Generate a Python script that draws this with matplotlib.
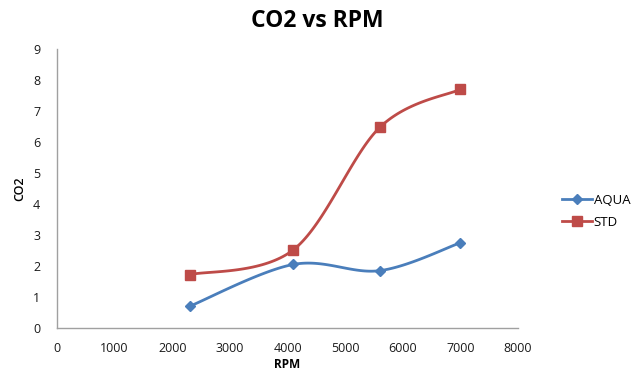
import numpy as np
import matplotlib
matplotlib.use("Agg")
import matplotlib.pyplot as plt
from matplotlib.lines import Line2D

rpm = [2300, 4100, 5600, 7000]
aqua = [0.7, 2.05, 1.85, 2.75]
std = [1.72, 2.52, 6.47, 7.7]
series_names = ["AQUA", "STD"]
x_ticks = [0, 1000, 2000, 3000, 4000, 5000, 6000, 7000, 8000]
y_ticks = [0, 1, 2, 3, 4, 5, 6, 7, 8, 9]

BLUE = "#4a7ebb"
RED = "#be4b48"
plt.rcParams["font.family"] = ["Open Sans", "DejaVu Sans"]


def smooth(xs, ys, n=40):
    """Cubic Bezier smoothing through points (Catmull-Rom style control points)."""
    xs = np.asarray(xs, float)
    ys = np.asarray(ys, float)
    px = np.concatenate([[xs[0]], xs, [xs[-1]]])
    py = np.concatenate([[ys[0]], ys, [ys[-1]]])
    ox, oy = [], []
    t = np.linspace(0, 1, n)
    for i in range(1, len(px) - 2):
        p0 = np.array([px[i], py[i]])
        p3 = np.array([px[i + 1], py[i + 1]])
        p1 = p0 + (np.array([px[i + 1], py[i + 1]]) - np.array([px[i - 1], py[i - 1]])) / 6
        p2 = p3 - (np.array([px[i + 2], py[i + 2]]) - np.array([px[i], py[i]])) / 6
        b = ((1 - t) ** 3)[:, None] * p0 + (3 * (1 - t) ** 2 * t)[:, None] * p1 \
            + (3 * (1 - t) * t ** 2)[:, None] * p2 + (t ** 3)[:, None] * p3
        ox.extend(b[:, 0])
        oy.extend(b[:, 1])
    return ox, oy


fig = plt.figure(figsize=(6.35, 3.74), dpi=100)
ax = fig.add_axes([0.0898, 0.123, 0.726, 0.746])

for ys, col, mk, ms in [(aqua, BLUE, "D", 5), (std, RED, "s", 7)]:
    sx, sy = smooth(rpm, ys)
    ax.plot(sx, sy, color=col, lw=2, solid_capstyle="round")
    ax.plot(rpm, ys, ls="none", marker=mk, ms=ms, color=col)

ax.set_xlim(0, 8000)
ax.set_ylim(0, 9)
ax.set_xticks(x_ticks)
ax.set_yticks(y_ticks)
ax.tick_params(length=0, labelsize=9, colors="#1a1a1a")
ax.tick_params(axis="x", pad=10)
ax.tick_params(axis="y", pad=12)
for s in ["top", "right"]:
    ax.spines[s].set_visible(False)
for s in ["left", "bottom"]:
    ax.spines[s].set_color("#a0a0a0")
    ax.spines[s].set_linewidth(1)

ax.set_xlabel("RPM", fontsize=8.5, fontweight="bold", labelpad=2)
ax.set_ylabel("CO2", fontsize=9, fontweight="semibold", labelpad=5)
fig.text(0.5, 0.945, "CO2 vs RPM", ha="center", va="center", fontsize=16.5, fontweight="bold")

handles = [
    Line2D([], [], color=BLUE, lw=2, marker="D", ms=5),
    Line2D([], [], color=RED, lw=2, marker="s", ms=7),
]
fig.legend(handles, series_names, loc="center left", bbox_to_anchor=(0.876, 0.435),
           frameon=False, fontsize=9.5, handlelength=2.3, handletextpad=0.15, labelspacing=0.7,
           borderaxespad=0)

fig.savefig("out.png", dpi=100)
